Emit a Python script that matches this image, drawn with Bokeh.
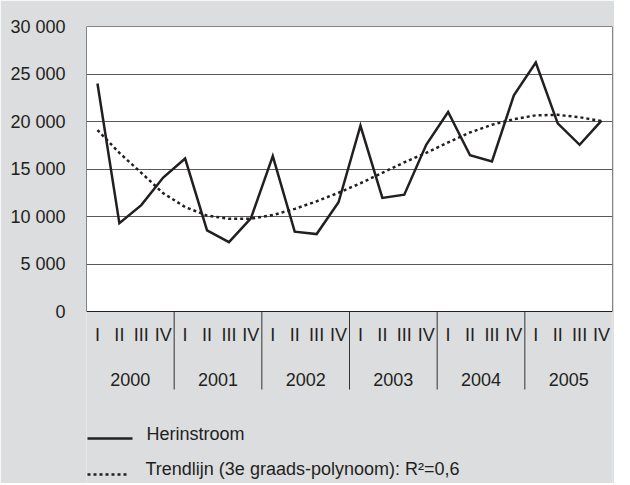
from bokeh.plotting import figure
from bokeh.models import FixedTicker, Range1d
from bokeh.embed import file_html
from bokeh.resources import INLINE
from bokeh.core.properties import value

quarters = ["I", "II", "III", "IV"]
years = ["2000", "2001", "2002", "2003", "2004", "2005"]
herinstroom = [24000, 9300, 11200, 14100, 16100, 8550, 7300, 9800,
               16350, 8400, 8150, 11500, 19550, 11950, 12300, 17550,
               21000, 16450, 15800, 22750, 26200, 19800, 17550, 20100]
trend = [19100, 16700, 14600, 12450, 11000, 10100, 9760, 9760,
         10150, 10800, 11600, 12500, 13500, 14600, 15700, 16700,
         17800, 18850, 19650, 20250, 20650, 20700, 20450, 20050]
y_ticks = [0, 5000, 10000, 15000, 20000, 25000, 30000]
y_labels = ["0", "5 000", "10 000", "15 000", "20 000", "25 000", "30 000"]
legend_labels = ["Herinstroom", "Trendlijn (3e graads-polynoom): R\u00b2=0,6"]

BG = "#dcdddf"
TXT = "#231f20"
FONT = "Liberation Sans"
FS = "18px"

n = len(herinstroom)
xs = [i + 0.5 for i in range(n)]
ymax = y_ticks[-1]

# frame: 526 x 457 px; white plot area occupies top 285 px
FRAME_W, FRAME_H, PLOT_H = 526, 457, 285
p = figure(width=614, height=483, x_range=Range1d(0, n),
           y_range=Range1d(-ymax * (FRAME_H - PLOT_H) / PLOT_H, ymax),
           output_backend="svg", toolbar_location=None, x_axis_location=None,
           min_border_left=86, min_border_right=2, min_border_top=26, min_border_bottom=0)
p.background_fill_color = BG
p.border_fill_color = BG
p.outline_line_color = None
p.extra_y_ranges = {"px": Range1d(FRAME_H, 0)}
p.extra_x_ranges = {"px": Range1d(0, FRAME_W)}

p.yaxis.ticker = FixedTicker(ticks=y_ticks)
p.yaxis.major_label_overrides = {float(t): l for t, l in zip(y_ticks, y_labels)}
p.yaxis.axis_line_color = None
p.yaxis.major_tick_line_color = None
p.yaxis.minor_tick_line_color = None
p.yaxis.major_label_standoff = 15
p.yaxis.major_label_text_font = FONT
p.yaxis.major_label_text_font_size = FS
p.yaxis.major_label_text_color = TXT
p.xgrid.visible = False
p.ygrid.ticker = FixedTicker(ticks=y_ticks[1:-1])
p.ygrid.grid_line_color = "#5a5a5a"
p.ygrid.grid_line_width = 1

# white plotting area with dark border
p.quad(left=[0], right=[n], bottom=[y_ticks[0]], top=[ymax], fill_color="white",
       line_color=TXT, line_width=1, level="image")

# year separators below the axis
sep = [4 * k for k in range(1, len(years))]
p.segment(x0=sep, y0=[PLOT_H] * len(sep), x1=sep, y1=[PLOT_H + 78] * len(sep),
          y_range_name="px", line_color="#333333", line_width=1)

# quarter and year labels
p.text(x=xs, y=[PLOT_H + 23] * n, text=[quarters[i % 4] for i in range(n)],
       y_range_name="px", text_align="center", text_baseline="middle",
       text_font=value(FONT), text_font_size=FS, text_color=TXT)
yc = [4 * k + 2.0 for k in range(len(years))]
p.text(x=yc, y=[PLOT_H + 68] * len(yc), text=years,
       y_range_name="px", text_align="center", text_baseline="middle",
       text_font=value(FONT), text_font_size=FS, text_color=TXT)

# data
p.line(xs, herinstroom, line_color=TXT, line_width=2.5, line_join="miter")
p.line(xs, trend, line_color=TXT, line_width=2.5, line_dash="3 3")

# legend
p.line([1, 46], [412, 412], x_range_name="px", y_range_name="px",
       line_color=TXT, line_width=2.5)
p.line([1, 41], [448, 448], x_range_name="px", y_range_name="px",
       line_color=TXT, line_width=2.5, line_dash="3 3")
p.text(x=[60, 59], y=[407, 442], text=legend_labels, x_range_name="px", y_range_name="px",
       text_baseline="middle", text_font=value(FONT), text_font_size=FS, text_color=TXT)

open("out.html", "w").write(file_html(p, INLINE))
